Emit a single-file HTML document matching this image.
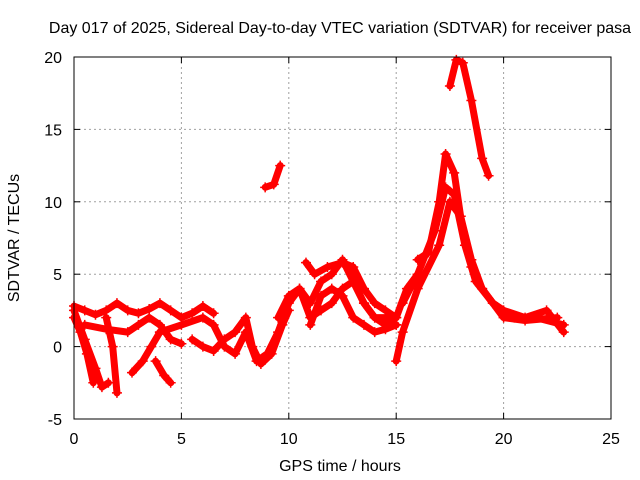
<!DOCTYPE html>
<html><head><meta charset="utf-8"><style>
body{margin:0;background:#fff;}
svg{display:block;font-family:"Liberation Sans",sans-serif;}
</style></head><body>
<svg id="chart" width="640" height="480" viewBox="0 0 640 480">
<rect width="640" height="480" fill="#fff"/>
<text x="340" y="33" font-size="16" text-anchor="middle">Day 017 of 2025, Sidereal Day-to-day VTEC variation (SDTVAR) for receiver pasa</text>
<g id="grid"></g>
<g id="series"></g>
<rect x="74" y="57" width="537" height="362" fill="none" stroke="#000" stroke-width="1"/>
<g id="ticks"></g>
<text x="340" y="471" font-size="16" text-anchor="middle">GPS time / hours</text>
<text x="0" y="0" font-size="16" text-anchor="middle" transform="translate(19,238) rotate(-90)">SDTVAR / TECUs</text>
</svg>
<script>
const xTicks=[0,5,10,15,20,25];
const yTicks=[-5,0,5,10,15,20];
const sA=[[0,2.8],[0.5,2.5],[1,2.2],[1.5,2.5],[2,3],[2.5,2.5],[3,2.3],[3.5,2.6],[4,3],[4.5,2.5],[5,2],[5.5,2.3],[6,2.8],[6.5,2.3]];
const sB=[[0,2],[0.3,1],[0.6,-0.5],[0.9,-2.5]];
const sC=[[0,2.5],[0.5,0.5],[1,-1.5],[1.3,-2.8],[1.6,-2.5]];
const sD=[[1.5,2],[1.8,0],[2,-3.2]];
const sE=[[0.5,1.5],[1.5,1.2],[2.5,1],[3,1.5],[3.5,2],[4,1.5],[4.5,0.5],[5,0.2]];
const sF=[[2.7,-1.8],[3.2,-1],[3.6,0],[4,1]];
const sG=[[3.8,-1],[4.2,-2],[4.5,-2.5]];
const sH=[[4,1],[5,1.5],[6,2],[6.5,1.5],[7,0],[7.5,-0.5],[8,1],[8.5,-1],[9,-0.5],[9.5,1],[10,3],[10.5,4],[11,3],[11.5,4.5],[12,5],[12.5,6],[13,4.5],[13.5,3],[14,2],[14.5,1.5],[15,2],[15.5,4],[16,5]];
const sI=[[5.5,0.5],[6,0],[6.5,-0.3],[7,0.5],[7.5,1],[8,2],[8.3,0],[8.7,-1.2],[9.2,-0.5],[9.7,1.5],[10,2.5]];
const sJ=[[9.5,2],[10,3.5],[10.5,4],[11,2],[11.5,2.5],[12,3],[12.5,4],[13,4.5],[13.5,3],[14,2],[14.5,2],[15,1.5]];
const sK=[[10.8,5.8],[11.2,5],[11.8,5.5],[12.5,5.8],[13,5.5],[13.5,4],[14,3],[14.5,2.5],[15,2]];
const sL=[[11,1.5],[11.5,3.5],[12,4],[12.5,3.5],[13,2],[13.5,1.5],[14,1],[14.5,1.2],[15,1.5]];
const sM=[[16,6],[16.5,6.5],[17,10],[17.3,13.3],[17.7,12],[18,9],[18.5,5.5],[19,4],[19.5,3],[20,2.5],[21,2],[22,2.5],[22.8,1]];
const sN=[[15.3,3],[16,5],[16.8,8],[17.3,11],[17.7,10.5],[18.2,7],[18.7,4.5],[19.5,3],[20.5,2],[21.5,2],[22.8,1.5]];
const sO=[[15,-1],[15.3,1],[16,4],[17,7],[17.5,10],[18,9],[18.5,6],[19,4],[20,2],[21,1.8],[22.5,2]];
const sP=[[8.9,11],[9.3,11.2],[9.6,12.5]];
const sQ=[[17.5,18],[17.8,19.8],[18.1,19.6],[18.5,17],[19,13],[19.3,11.8]];
const allSeries=[sA,sB,sC,sD,sE,sF,sG,sH,sI,sJ,sK,sL,sM,sN,sO,sP,sQ];
const NS='http://www.w3.org/2000/svg';
const X0=74,X1=611,Y0=419,Y1=57;
function xs(v){return X0+(v-0)/(25-0)*(X1-X0);}
function ys(v){return Y0-(v+5)/(20+5)*(Y0-Y1);}
const grid=document.getElementById('grid'),ticks=document.getElementById('ticks'),ser=document.getElementById('series');
function mk(t,a,p){const e=document.createElementNS(NS,t);for(const k in a)e.setAttribute(k,a[k]);p.appendChild(e);return e;}
xTicks.forEach(v=>{const x=xs(v);
 if(v>0&&v<25){const g=mk('line',{x1:x,y1:Y0,x2:x,y2:Y1,stroke:'#a0a0a0','stroke-dasharray':'2,3'},grid);
 }
 const t1=mk('line',{x1:x,y1:Y0,x2:x,y2:Y0-6,stroke:'#000'},ticks);
 
 const t2=mk('line',{x1:x,y1:Y1,x2:x,y2:Y1+6,stroke:'#000'},ticks);
 
 const l=mk('text',{x:x,y:444,'font-size':16,'text-anchor':'middle'},ticks);l.textContent=v;
 });
yTicks.forEach(v=>{const y=ys(v);
 if(v>-5&&v<20){const g=mk('line',{x1:X0,y1:y,x2:X1,y2:y,stroke:'#a0a0a0','stroke-dasharray':'2,3'},grid);
 }
 const t1=mk('line',{x1:X0,y1:y,x2:X0+6,y2:y,stroke:'#000'},ticks);
 
 const t2=mk('line',{x1:X1,y1:y,x2:X1-6,y2:y,stroke:'#000'},ticks);
 
 const l=mk('text',{x:62,y:y+6,'font-size':16,'text-anchor':'end'},ticks);l.textContent=v;
 });
allSeries.forEach((s,i)=>{
 const pts=s.map(p=>xs(p[0]).toFixed(1)+','+ys(p[1]).toFixed(1)).join(' ');
 const pl=mk('polyline',{points:pts,fill:'none',stroke:'#ff0000','stroke-width':7,'stroke-linejoin':'round','stroke-linecap':'round'},ser);
 
 
 s.forEach(p=>{const x=xs(p[0]),y=ys(p[1]);
  const m=mk('path',{d:`M${x-5},${y}H${x+5}M${x},${y-5}V${y+5}`,stroke:'#ff0000','stroke-width':1.5},ser);
  
  });
});
</script>
</body></html>
